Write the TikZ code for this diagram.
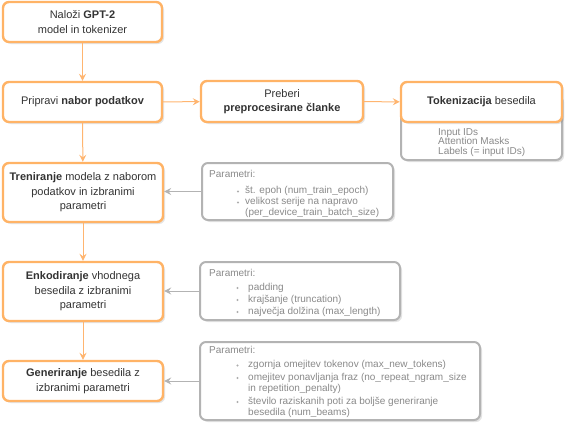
\documentclass[tikz,border=0pt]{standalone}
\usepackage{fontspec}
\setmainfont{Liberation Sans}
\usetikzlibrary{arrows.meta,shadows}
\definecolor{orbox}{HTML}{FFB366}
\definecolor{orline}{HTML}{FFB570}
\definecolor{grbox}{HTML}{B3B3B3}
\definecolor{grtext}{HTML}{8A8A8A}
\definecolor{maintext}{HTML}{333333}
\tikzset{
  obox/.style={draw=orbox, line width=2.4pt, fill=white, rounded corners=6pt, inner sep=0pt,
    text=maintext, align=center, font=\fontsize{11}{14.5}\selectfont,
    drop shadow={shadow xshift=2pt, shadow yshift=-2pt, opacity=0.18, fill=black!60}},
  gbox/.style={draw=grbox, line width=2pt, fill=white, rounded corners=6pt, inner sep=0pt,
    drop shadow={shadow xshift=2pt, shadow yshift=-2pt, opacity=0.18, fill=black!60}},
  gtxt/.style={anchor=west, inner sep=0pt, text=grtext, font=\fontsize{10}{11.7}\selectfont, align=left},
  oarrow/.style={draw=orline, line width=1pt, -{Stealth[length=7pt,width=7pt,inset=2.5pt]}},
  garrow/.style={draw=grbox, line width=1pt, -{Stealth[length=7pt,width=7pt,inset=2.5pt]}},
  bul/.style={circle, fill=grtext!70, inner sep=0pt, minimum size=2.2pt}
}
\begin{document}
\begin{tikzpicture}[x=1pt,y=-1pt]
\useasboundingbox (0,0) rectangle (574,439);
% gray boxes
\node[gbox, minimum width=161pt, minimum height=66pt] (tokg) at (481.5,127) {};
\node[gbox, minimum width=191pt, minimum height=57pt] (p1) at (297.5,191.5) {};
\node[gbox, minimum width=200pt, minimum height=58pt] (p2) at (300,291) {};
\node[gbox, minimum width=280pt, minimum height=78pt] (p3) at (340,381) {};
% orange boxes
\node[obox, minimum width=159pt, minimum height=40pt] (load) at (82.5,22) {Naloži \textbf{GPT-2}\\model in tokenizer};
\node[obox, minimum width=159pt, minimum height=40pt] (prep) at (82.5,102) {Pripravi \textbf{nabor podatkov}};
\node[obox, minimum width=162pt, minimum height=41pt] (read) at (282,101.5) {Preberi\\\textbf{preprocesirane članke}};
\node[obox, minimum width=161pt, minimum height=40pt] (tok) at (481.5,102) {\textbf{Tokenizacija} besedila};
\node[obox, minimum width=160pt, minimum height=59pt] (train) at (83,192.5) {\textbf{Treniranje} modela z naborom\\podatkov in izbranimi\\parametri};
\node[obox, minimum width=160pt, minimum height=59pt] (enc) at (83,291.5) {\textbf{Enkodiranje} vhodnega\\besedila z izbranimi\\parametri};
\node[obox, minimum width=160pt, minimum height=40pt] (gen) at (83,381) {\textbf{Generiranje} besedila z\\izbranimi parametri};
% tokenization outputs
\node[gtxt] (tokt) at (438,142.5) {Input IDs\\[-2.4pt]Attention Masks\\[-2.4pt]Labels (= input IDs)};
% params 1
\node[gtxt] (p1h) at (209,174) {Parametri:};
\node[bul] (p1b1) at (238,191.5) {};
\node[bul] (p1b2) at (238,202.5) {};
\node[gtxt] (p1t1) at (245,191) {št. epoh (num\_train\_epoch)};
\node[gtxt] (p1t2) at (245,207.5) {velikost serije na napravo\\(per\_device\_train\_batch\_size)};
% params 2
\node[gtxt] (p2h) at (209,273) {Parametri:};
\node[bul] (p2b1) at (237.5,288) {};
\node[bul] (p2b2) at (237.5,300) {};
\node[bul] (p2b3) at (237.5,312) {};
\node[gtxt] (p2t1) at (248,287.5) {padding};
\node[gtxt] (p2t2) at (248,299.5) {krajšanje (truncation)};
\node[gtxt] (p2t3) at (248,311.5) {največja dolžina (max\_length)};
% params 3
\node[gtxt] (p3h) at (209,350) {Parametri:};
\node[bul] (p3b1) at (237.5,365.5) {};
\node[bul] (p3b2) at (237.5,378) {};
\node[bul] (p3b3) at (237.5,402) {};
\node[gtxt] (p3t1) at (248,365) {zgornja omejitev tokenov (max\_new\_tokens)};
\node[gtxt] (p3t2) at (248,383.5) {omejitev ponavljanja fraz (no\_repeat\_ngram\_size\\in repetition\_penalty)};
\node[gtxt] (p3t3) at (248,407.5) {število raziskanih poti za boljše generiranje\\besedila (num\_beams)};
% connectors
\draw[oarrow] (load) -- (prep);
\draw[oarrow] (prep) -- (read);
\draw[oarrow] (read) -- (tok);
\draw[oarrow] (prep) -- (train);
\draw[oarrow] (train) -- (enc);
\draw[oarrow] (enc) -- (gen);
\draw[garrow] (p1) -- (p1 -| train.east);
\draw[garrow] (p2) -- (p2 -| enc.east);
\draw[garrow] (p3) -- (p3 -| gen.east);
\end{tikzpicture}
\end{document}
